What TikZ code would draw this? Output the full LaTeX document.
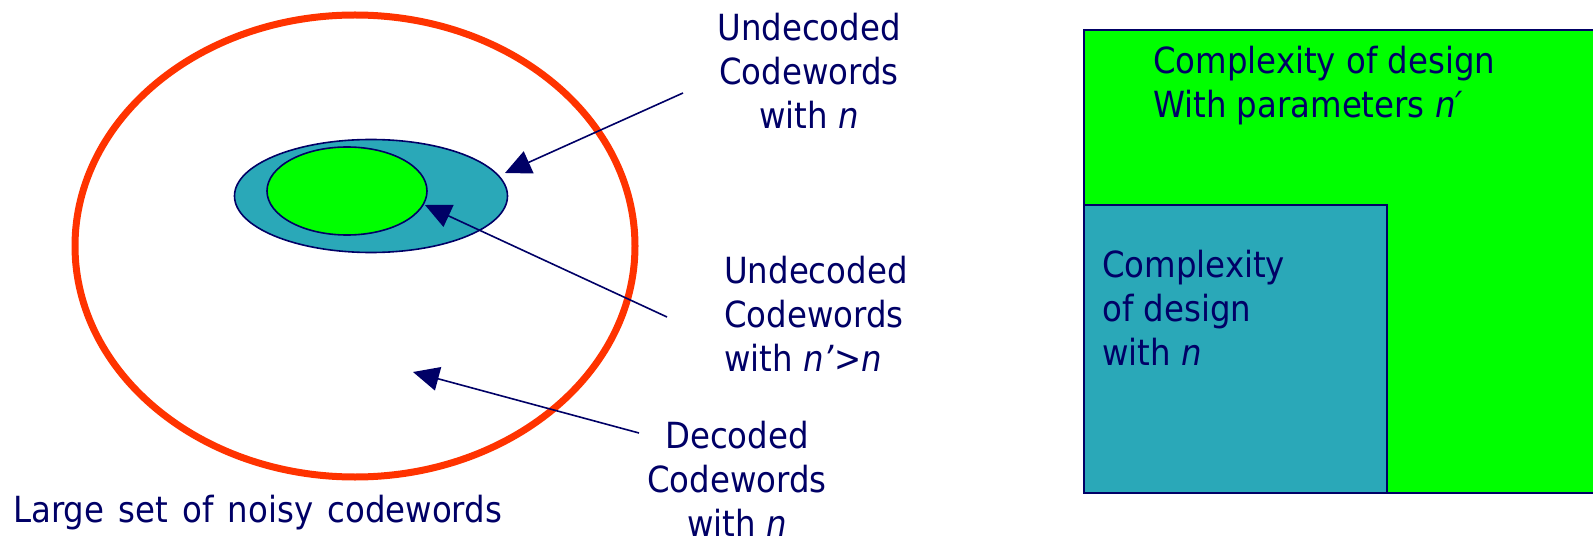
\documentclass[tikz,border=0pt]{standalone}
\usepackage{fontspec}
\setmainfont{DejaVu Sans Condensed}
\usetikzlibrary{shapes.geometric,arrows.meta}
\definecolor{navy}{HTML}{000066}
\definecolor{redring}{HTML}{FF3300}
\definecolor{tealfill}{HTML}{2AA8B8}
\definecolor{brightgreen}{HTML}{00FF00}
\tikzset{
  lbl/.style={inner sep=0pt, text=navy, font=\fontsize{36}{44}\selectfont},
  region/.style={ellipse, inner sep=0pt, draw=navy, line width=1.6pt},
  pointer/.style={draw=navy, line width=1.6pt, -{Triangle[length=26pt,width=24pt]}},
  box/.style={draw=navy, line width=1.6pt},
}
\begin{document}
\begin{tikzpicture}[x=1pt,y=-1pt]
\useasboundingbox (0,0) rectangle (1593,540);

% left: sets of codewords
\node[ellipse, inner sep=0pt, draw=redring, line width=7pt,
      minimum width=560pt, minimum height=462pt] (noisy) at (355,246) {};
\node[region, fill=tealfill, minimum width=273pt, minimum height=113pt] (undec) at (371,196) {};
\node[region, fill=brightgreen, minimum width=160pt, minimum height=88pt] (undecp) at (347,191) {};

\node[lbl, anchor=north, align=center] (t1) at (809,13) {Undecoded\\Codewords\\with \textit{n}};
\node[lbl, anchor=north west, align=left] (t2) at (724,256) {Undecoded\\Codewords\\with \textit{n\char"27}>\textit{n}};
\node[lbl, anchor=north, align=center] (t3) at (737,421) {Decoded\\Codewords\\with \textit{n}};
\node[lbl, anchor=north west] (t4) at (13,495) {Large\hspace{4pt} set\hspace{4pt} of\hspace{4pt} noisy\hspace{4pt} codewords};

\coordinate (s1) at (683,93);  \coordinate (e1) at (505,173);
\coordinate (s2) at (667,317); \coordinate (e2) at (425,205);
\coordinate (s3) at (639,433); \coordinate (e3) at (413,372);
\draw[pointer] (s1) -- (e1);
\draw[pointer] (s2) -- (e2);
\draw[pointer] (s3) -- (e3);

% right: design complexity
\path[box, fill=brightgreen] (1084,30) rectangle (1600,493);
\node[box, fill=tealfill, minimum width=303pt, minimum height=288pt, inner sep=0pt] (small) at (1235.5,349) {};
\node[lbl, anchor=north west, align=left] (t5) at (1153,46) {Complexity of design\\With parameters \textit{n′}};
\node[lbl, anchor=north west, align=left] (t6) at (1102,250) {Complexity\\of design\\with \textit{n}};
\end{tikzpicture}
\end{document}
